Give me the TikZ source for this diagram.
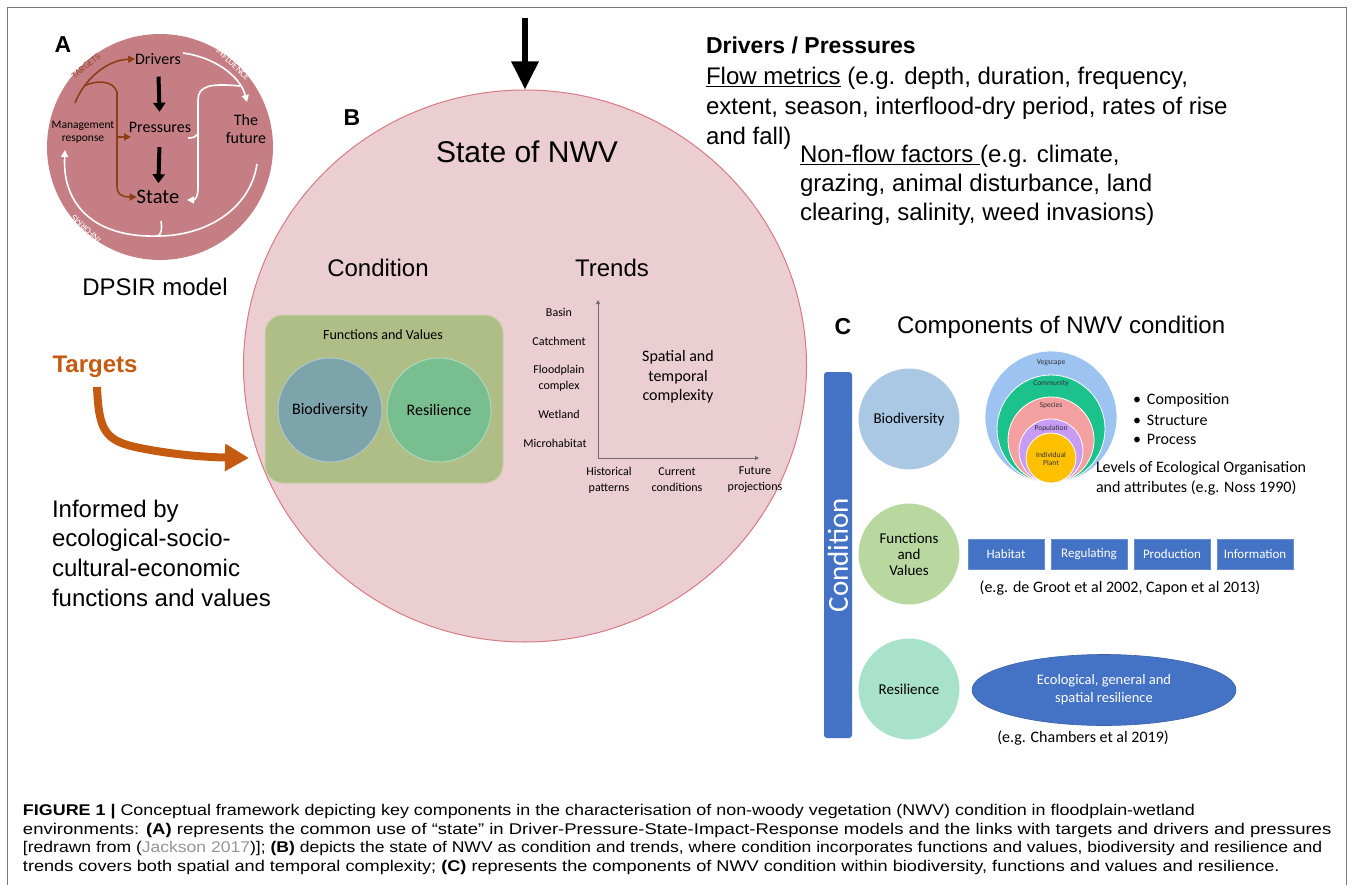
\documentclass[tikz,border=0pt]{standalone}
\usepackage{fontspec}
\usepackage{graphicx}
\setmainfont{Liberation Sans}
\newfontfamily\calf{Carlito}
\newfontfamily\arialf{Liberation Sans}
\newfontfamily\capf[FakeStretch=1.17]{Liberation Sans}
\usetikzlibrary{arrows.meta,shapes.geometric}
\definecolor{rosA}{RGB}{197,127,132}
\definecolor{pinkB}{RGB}{235,206,209}
\definecolor{pinkBd}{RGB}{214,122,132}
\definecolor{brownA}{RGB}{140,62,22}
\definecolor{brownL}{RGB}{150,72,40}
\definecolor{oliveB}{RGB}{175,189,134}
\definecolor{tealB}{RGB}{124,164,170}
\definecolor{greenB}{RGB}{120,190,142}
\definecolor{blueC}{RGB}{68,114,196}
\definecolor{bioC}{RGB}{170,200,228}
\definecolor{fvC}{RGB}{184,216,160}
\definecolor{resC}{RGB}{168,226,202}
\definecolor{vegC}{RGB}{157,196,240}
\definecolor{comC}{RGB}{28,194,140}
\definecolor{spcC}{RGB}{245,160,160}
\definecolor{popC}{RGB}{200,156,245}
\definecolor{indC}{RGB}{255,192,0}
\definecolor{orangeT}{RGB}{197,90,17}
\definecolor{frameC}{RGB}{120,120,120}
\definecolor{axisC}{RGB}{110,110,110}
\definecolor{linkC}{RGB}{150,150,150}
\newcommand\fsz[2]{\fontsize{#1}{#2}\selectfont}
\begin{document}
\begin{tikzpicture}[x=1pt,y=-1pt,
  txt/.style={inner sep=0pt,outer sep=0pt},
  blkA/.style={line width=4pt,-{Triangle[width=12pt,length=9pt]}},
  brn/.style={draw=brownA,line width=1.6pt,-{Triangle[width=7pt,length=7pt]}},
  brnl/.style={draw=brownA,line width=1.6pt},
  wht/.style={draw=white,line width=1.6pt,-{Triangle[width=7pt,length=7pt]}},
  whtl/.style={draw=white,line width=1.6pt},
  circC/.style={circle,inner sep=0pt,minimum size=103pt,draw=white,line width=2pt,font=\calf\fsz{15}{16},align=center},
  lev/.style={circle,inner sep=0pt,draw=white,line width=0.8pt},
  levt/.style={txt,font=\calf\fsz{7.5}{8},text=black!80,align=center},
  bluebox/.style={rectangle,fill=blueC,draw=blueC!80!white,minimum width=76pt,minimum height=30pt,inner sep=0pt,text=white,font=\calf\fsz{13}{14}},
  axlab/.style={txt,font=\calf\fsz{12}{16},align=center},
  body/.style={txt,anchor=base west,font=\arialf\fsz{24}{30}},
  capl/.style={txt,anchor=base west,font=\capf\fsz{15.5}{18}}
]
\useasboundingbox (0,0) rectangle (1354,885);
\fill[white] (0,0) rectangle (1354,885);
\draw[frameC,line width=1pt] (7.5,900) -- (7.5,8) -- (1346,8) -- (1346,900);

% ---------------- Panel A
\node[circle,fill=rosA,minimum size=226pt,inner sep=0pt] (cA) at (160,147) {};
\node[txt,font=\arialf\bfseries\fsz{23}{26}] (labA) at (63,45) {A};
\node[txt,font=\calf\fsz{16}{18}] (drv) at (158,59) {Drivers};
\node[txt,font=\calf\fsz{16}{18}] (prs) at (160,127) {Pressures};
\node[txt,font=\calf\fsz{20.5}{22}] (stt) at (158,197) {State};
\node[txt,font=\calf\fsz{11.5}{12.5},align=center] (mgmt) at (83,132) {Management\\response};
\node[txt,font=\calf\fsz{16}{18},align=center] (fut) at (246,129) {The\\future};
\draw[blkA,shorten <=12pt,shorten >=10pt] (drv) -- (prs);
\draw[blkA,shorten <=15pt,shorten >=7pt] (prs) -- (stt);

\coordinate (brS) at (75,103);
\coordinate (brB) at (84,86);
\coordinate (brP) at (131,137);
\coordinate (brV) at (117,137);
\draw[brn] (brS) .. controls (84,80) and (106,60) .. (drv.west);
\draw[brn] (brB) .. controls (96,80) and (113,80) .. (117,92) -- (117,186) .. controls (117,194) and (121,197) .. (stt.west);
\draw[brn] (brV) -- (brP);

\coordinate (wI1) at (183,53);
\coordinate (wI2) at (247,102);
\draw[wht] (wI1) .. controls (213,57) and (240,75) .. (wI2);
\coordinate (wB1) at (240,86);
\coordinate (wB2) at (187,200);
\draw[wht] (wB1) .. controls (210,83) and (198,86) .. (198,100) -- (198,188) .. controls (198,197) and (195,200) .. (wB2);
\coordinate (wP1) at (188,138);
\coordinate (wP2) at (198,134);
\draw[whtl] (wP1) .. controls (193,138) and (196,137) .. (wP2);
\coordinate (wF1) at (257,164);
\coordinate (wM) at (158,236);
\coordinate (wH) at (161,221);
\coordinate (wE) at (65,150);
\draw[whtl] (wF1) .. controls (250,210) and (205,236) .. (wM);
\draw[whtl] (wM) .. controls (162,233) and (162,228) .. (wH);
\draw[wht] (wM) .. controls (97,238) and (62,207) .. (wE);

\node[txt,rotate=40,font=\calf\fsz{9.5}{10},text=brownL] (tgtlab) at (86,66) {TARGETS};
\node[txt,rotate=-44,font=\calf\fsz{9.5}{10},text=white] (inflab) at (233,64) {INFLUENCE};
\node[txt,rotate=137,font=\calf\fsz{9.5}{10},text=white] (infolab) at (86,229) {INFORMS};

\node[txt,font=\arialf\fsz{24}{28}] (dpsir) at (155,287) {DPSIR model};

% ---------------- Targets
\node[txt,font=\arialf\bfseries\fsz{24}{28},text=orangeT] (tgt) at (95,367) {Targets};
\coordinate (tgS) at (97,387);
\coordinate (tgE) at (249,458);
\draw[orangeT,line width=8pt,-{Triangle[width=26pt,length=24pt]}] (tgS) .. controls (99,430) and (104,441) .. (140,448) .. controls (170,454) and (200,457) .. (tgE);
\node[txt,anchor=west,align=left,font=\arialf\fsz{24}{29.7}] (inf) at (52,553) {Informed by\\ecological-socio-\\cultural-economic\\functions and values};

% ---------------- Panel B
\node[ellipse,fill=pinkB,draw=pinkBd,line width=1pt,minimum width=563pt,minimum height=552pt,inner sep=0pt] (cB) at (525,366) {};
\coordinate (topS) at (525,18);
\draw[line width=6pt,-{Triangle[width=26pt,length=28pt]}] (topS) -- (cB.north);
\node[txt,font=\arialf\bfseries\fsz{23}{26}] (labB) at (352,118) {B};
\node[txt,font=\arialf\fsz{30}{34}] (sNWV) at (527,152) {State of NWV};
\node[txt,font=\arialf\fsz{24}{28}] (cond) at (378,268) {Condition};
\node[txt,font=\arialf\fsz{24}{28}] (trnd) at (612,268) {Trends};

\node[rectangle,rounded corners=18pt,fill=oliveB,draw=oliveB!70!white,line width=1pt,minimum width=238pt,minimum height=168pt] (fv) at (384,399) {};
\node[txt,font=\calf\fsz{14}{16}] (fvt) at (383,335) {Functions and Values};
\node[circle,fill=tealB,draw=tealB!60!white,line width=1pt,minimum size=104pt,inner sep=0pt,font=\calf\fsz{16}{18}] (bioB) at (330,410) {Biodiversity};
\node[circle,fill=greenB,draw=greenB!60!white,line width=1pt,minimum size=104pt,inner sep=0pt,font=\calf\fsz{16}{18}] (resB) at (439,410) {Resilience};

\coordinate (ax0) at (598,458);
\coordinate (axY) at (598,300);
\coordinate (axX) at (759,458);
\draw[axisC,line width=1pt,-{Triangle[width=4pt,length=4pt]}] (ax0) -- (axY);
\draw[axisC,line width=1pt,-{Triangle[width=4pt,length=4pt]}] (ax0) -- (axX);
\node[axlab] (basin) at (559,312) {Basin};
\node[axlab] (catch) at (559,341) {Catchment};
\node[axlab] (flood) at (559,378) {Floodplain\\complex};
\node[axlab] (wetl) at (559,414) {Wetland};
\node[axlab] (micro) at (555,443) {Microhabitat};
\node[axlab] (hist) at (609,480) {Historical\\patterns};
\node[axlab] (curr) at (677,480) {Current\\conditions};
\node[axlab] (futp) at (755,480) {Future\\projections};
\node[txt,font=\calf\fsz{16}{19.5},align=center] (stc) at (678,377) {Spatial and\\temporal\\complexity};

% ---------------- Drivers / Pressures text
\node[body,font=\arialf\bfseries\fsz{23}{30}] (dp1) at (706,53.5) {Drivers / Pressures};
\node[body] (dp2) at (706,85) {\underline{Flow metrics} (e.g. depth, duration, frequency,};
\node[body] (dp3) at (706,115) {extent, season, interflood-dry period, rates of rise};
\node[body] (dp4) at (706,145) {and fall)};
\node[body] (dp5) at (800,163) {\underline{Non-flow factors }(e.g. climate,};
\node[body] (dp6) at (800,192) {grazing, animal disturbance, land};
\node[body] (dp7) at (800,221) {clearing, salinity, weed invasions)};

% ---------------- Panel C
\node[txt,font=\arialf\bfseries\fsz{23}{26}] (labC) at (843,327) {C};
\node[txt,anchor=west,font=\arialf\fsz{24}{28}] (compt) at (897,327) {Components of NWV condition};
\node[rectangle,rotate=90,rounded corners=3pt,fill=blueC,minimum width=366pt,minimum height=28pt,inner sep=0pt,text=white,font=\calf\fsz{29}{30}] (cbar) at (838,555) {Condition};

\node[circC,fill=bioC] (bioC) at (909,419) {Biodiversity};
\node[circC,fill=fvC,font=\calf\fsz{15}{16}] (fvC) at (909,554) {Functions\\and\\Values};
\node[circC,fill=resC] (resCc) at (909,689) {Resilience};

\node[lev,fill=vegC,minimum size=132pt] (veg) at (1051,417) {};
\node[lev,fill=comC,minimum size=108pt] (com) at (1051,429) {};
\node[lev,fill=spcC,minimum size=86pt] (spc) at (1051,440) {};
\node[lev,fill=popC,minimum size=64pt] (pop) at (1051,451) {};
\node[lev,fill=indC,minimum size=50pt] (ind) at (1051,458) {};
\node[levt] (vegt) at (1051,363) {Vegscape};
\node[levt] (comt) at (1051,384) {Community};
\node[levt] (spct) at (1051,406) {Species};
\node[levt] (popt) at (1051,428) {Population};
\node[levt] (indt) at (1051,459) {Individual\\Plant};

\node[txt,anchor=west,font=\calf\fsz{16}{18}] (b1) at (1133,400) {•\hspace{6pt}Composition};
\node[txt,anchor=west,font=\calf\fsz{16}{18}] (b2) at (1133,420) {•\hspace{6pt}Structure};
\node[txt,anchor=west,font=\calf\fsz{16}{18}] (b3) at (1133,439) {•\hspace{6pt}Process};
\node[txt,anchor=west,align=left,font=\calf\fsz{16}{20}] (levl) at (1096,478) {Levels of Ecological Organisation\\and attributes (e.g. Noss 1990)};

\node[bluebox] (hab) at (1006,554) {Habitat};
\node[bluebox] (reg) at (1089,554) {Regulating};
\node[bluebox] (pro) at (1172,554) {Production};
\node[bluebox] (inf2) at (1255,554) {Information};
\node[txt,font=\calf\fsz{16}{18}] (groot) at (1120,588) {(e.g. de Groot et al 2002, Capon et al 2013)};

\node[ellipse,fill=blueC,draw=blueC!85!black,line width=0.6pt,minimum width=264pt,minimum height=71pt,inner sep=0pt,text=white,font=\calf\fsz{14.5}{18},align=center] (resE) at (1104,690) {Ecological, general and\\spatial resilience};
\node[txt,font=\calf\fsz{16}{18}] (chamb) at (1083,738) {(e.g. Chambers et al 2019)};

% ---------------- Caption
\node[capl] (cap1) at (23,815.5) {\scalebox{0.987}[1]{\textbf{FIGURE 1 |} Conceptual framework depicting key components in the characterisation of non-woody vegetation (NWV) condition in floodplain-wetland}};
\node[capl] (cap2) at (23,834) {\scalebox{1.02}[1]{environments: \textbf{(A)} represents the common use of “state” in Driver-Pressure-State-Impact-Response models and the links with targets and drivers and pressures}};
\node[capl] (cap3) at (23,852.5) {\scalebox{0.967}[1]{[redrawn from (\textcolor{linkC}{Jackson 2017})]; \textbf{(B)} depicts the state of NWV as condition and trends, where condition incorporates functions and values, biodiversity and resilience and}};
\node[capl] (cap4) at (23,871) {trends covers both spatial and temporal complexity; \textbf{(C)} represents the components of NWV condition within biodiversity, functions and values and resilience.};
\end{tikzpicture}
\end{document}
